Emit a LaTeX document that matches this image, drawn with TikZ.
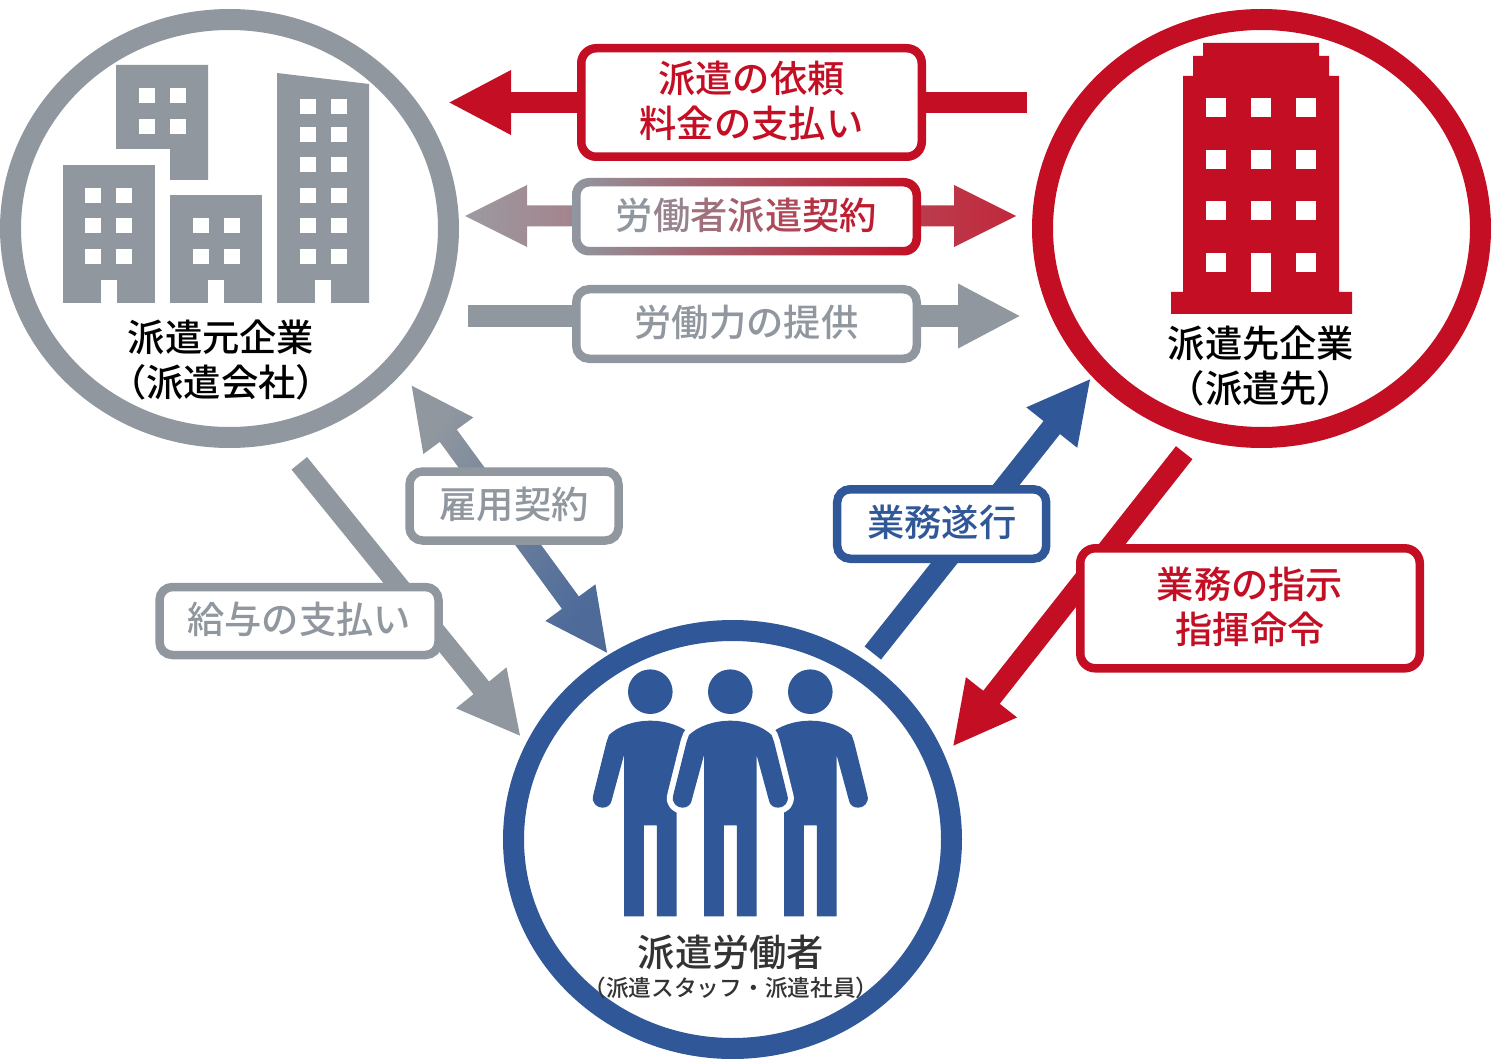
\documentclass[tikz,border=0pt]{standalone}
\usepackage{fontspec}
\setmainfont{Noto Sans CJK JP Medium}
\usepackage{xcolor}
\usetikzlibrary{shapes.geometric, arrows.meta, positioning, calc}
\definecolor{agencygray}{HTML}{90979F}
\definecolor{clientred}{HTML}{C30E23}
\definecolor{workerblue}{HTML}{305797}
\definecolor{workertext}{HTML}{333333}
\definecolor{contractleft}{HTML}{9C9AA1}
\definecolor{contractmid}{HTML}{B06E7C}
\definecolor{contractright}{HTML}{C1283B}
\tikzset{
    circlenode/.style={ellipse, draw, fill=white, line width=21pt, inner sep=0pt, minimum width=438pt, minimum height=418pt},
    labelbox/.style={rectangle, draw=#1, fill=white, line width=8.5pt, rounded corners=13pt, inner sep=0pt},
    boxtext/.style={inner sep=0pt, text=#1, yshift=1.5pt, align=center, font=\fontsize{37.3}{45}\selectfont},
    namelabel/.style={inner sep=0pt, align=center, font=\fontsize{37.3}{45}\selectfont},
    flow/.style={line width=#1, shorten >=-1pt, -{Triangle[length=63pt,width=60pt]}},
}
\newcommand{\personpath}{(0,720.7) .. controls (16,720.7) and (32,726) .. (41.3,735) -- (43.7,741.7) -- (57,795) .. controls (59.5,803) and (53,807.7) .. (48,807.7) .. controls (43,807.7) and (40,805) .. (39,801.7) -- (26.3,755) -- (26.3,916.3) -- (6.5,916.3) -- (6.5,825.3) -- (-6.5,825.3) -- (-6.5,916.3) -- (-26.3,916.3) -- (-26.3,755) -- (-39,801.7) .. controls (-40,805) and (-43,807.7) .. (-48,807.7) .. controls (-53,807.7) and (-59.5,803) .. (-57,795) -- (-43.7,741.7) -- (-41.3,735) .. controls (-32,726) and (-16,720.7) .. (0,720.7) -- cycle}
\newcommand{\gradarrow}[3]{
    \coordinate (ba) at ($(#1)!62pt!(#2)$);
    \coordinate (bb) at ($(#2)!62pt!(#1)$);
    \shade[#3] (#1) -- ($(ba)!31pt!90:(#2)$) -- ($(ba)!10.5pt!90:(#2)$) -- ($(bb)!10.5pt!-90:(#1)$) -- ($(bb)!31pt!-90:(#1)$) -- (#2) -- ($(bb)!31pt!90:(#1)$) -- ($(bb)!10.5pt!90:(#1)$) -- ($(ba)!10.5pt!-90:(#2)$) -- ($(ba)!31pt!-90:(#2)$) -- cycle;
}
\begin{document}
\begin{tikzpicture}[x=1pt,y=-1pt]
\useasboundingbox (0,0) rectangle (1491,1059);

\node[circlenode, draw=agencygray] (agency) at (229.5,228.5) {};
\node[circlenode, draw=clientred] (client) at (1261.5,228.5) {};
\node[circlenode, draw=workerblue] (worker) at (732.5,839.5) {};

\fill[agencygray] (116,65) -- (208,65) -- (208,180) -- (170,180) -- (170,149) -- (116,149) -- cycle;
\fill[agencygray] (63,165) rectangle (155,303);
\fill[agencygray] (170,195) rectangle (262,303);
\fill[agencygray] (277,73) -- (369,84) -- (369,303) -- (277,303) -- cycle;
\foreach \x in {139,170}
    \foreach \y in {88,119}
        \fill[white] (\x,\y) rectangle ++(15.5,15.5);
\foreach \x in {85,116}
    \foreach \y in {188,218,249}
        \fill[white] (\x,\y) rectangle ++(15.5,15.5);
\foreach \x in {193,224}
    \foreach \y in {218,249}
        \fill[white] (\x,\y) rectangle ++(15.5,15.5);
\foreach \x in {300,331}
    \foreach \y in {99,127,157,188,218,249}
        \fill[white] (\x,\y) rectangle ++(15.5,15.5);
\foreach \x in {101,208,315}
    \fill[white] (\x,280) rectangle ++(15.5,23);

\fill[clientred] (1203,43) -- (1319,43) -- (1319,56) -- (1329,56) -- (1329,76) -- (1339,76) -- (1339,292) -- (1352,292) -- (1352,314) -- (1171,314) -- (1171,292) -- (1183,292) -- (1183,76) -- (1193,76) -- (1193,56) -- (1203,56) -- cycle;
\foreach \x in {1206,1251,1296}
    \foreach \y in {98,150,201,253}
        \fill[white] (\x,\y) rectangle ++(20,19.5);
\fill[white] (1251,253) rectangle ++(20,39);

\foreach \cx in {650.3,810.3} {
    \begin{scope}[shift={(\cx,0)}]
        \fill[workerblue] (0,691.7) circle (22.3pt);
        \fill[workerblue] \personpath;
    \end{scope}
}
\begin{scope}[shift={(730.3,0)}]
    \draw[white, line width=12pt, line join=round, fill=white] \personpath;
    \fill[white] (26.3,750) -- (45,800) -- (26.3,814) -- cycle;
    \fill[white] (-26.3,750) -- (-45,800) -- (-26.3,814) -- cycle;
    \fill[workerblue] (0,691.7) circle (22.3pt);
    \fill[workerblue] \personpath;
\end{scope}

\node[namelabel] (agencyname) at (221,360) {派遣元企業\\（派遣会社）};
\node[namelabel] (clientname) at (1261,366.5) {派遣先企業\\（派遣先）};
\node[namelabel, text=workertext] (workername) at (731,952) {派遣労働者};
\node[inner sep=0pt, text=workertext, font=\fontsize{22.7}{26}\selectfont, below=7pt of workername] (workersub) {（派遣スタッフ・派遣社員）};

\coordinate (requestfrom) at (1027,102.5);
\coordinate (requestto) at (449,102.5);
\coordinate (tipleft) at (465,216);
\coordinate (tipright) at (1016,216);
\coordinate (laborfrom) at (468,316);
\coordinate (laborto) at (1020,316);
\coordinate (employtop) at (411.7,385.7);
\coordinate (employbottom) at (607,652.7);
\coordinate (wagefrom) at (299.3,463.3);
\coordinate (wageto) at (520.3,736);
\coordinate (dutyfrom) at (872.8,653);
\coordinate (dutyto) at (1090.3,379);
\coordinate (orderfrom) at (1184.2,452.7);
\coordinate (orderto) at (953.1,746);

\draw[flow=21pt, clientred] (requestfrom) -- (requestto);
\gradarrow{tipleft}{tipright}{left color=contractleft, middle color=contractmid, right color=contractright}
\draw[flow=21pt, agencygray] (laborfrom) -- (laborto);
\gradarrow{employtop}{employbottom}{left color=agencygray, right color=workerblue!70!agencygray, shading angle=54}
\draw[flow=20pt, agencygray] (wagefrom) -- (wageto);
\draw[flow=21pt, workerblue] (dutyfrom) -- (dutyto);
\draw[flow=21pt, clientred] (orderfrom) -- (orderto);

\node[labelbox=clientred, rounded corners=15pt, minimum width=340.5pt, minimum height=108.5pt] (requestbox) at (751.5,102.5) {};
\node[boxtext=clientred] (requesttext) at (requestbox) {派遣の依頼\\料金の支払い};
\node[inner sep=0pt, fill=white, rounded corners=13pt, minimum width=340.5pt, minimum height=69.5pt] (contractbox) at (746.5,216.5) {};
\shade[left color=agencygray, right color=clientred, even odd rule] [rounded corners=17pt] (572,178) rectangle (921,255.5) [rounded corners=9pt] (580.5,186.5) rectangle (912.5,247);
\node[boxtext=black] (contracttext) at (contractbox) {{\color{agencygray}労}{\color{clientred!14!agencygray}働}{\color{clientred!28!agencygray}者}{\color{clientred!43!agencygray}派}{\color{clientred!57!agencygray}遣}{\color{clientred!75!agencygray}契}{\color{clientred!90!agencygray}約}};
\node[labelbox=agencygray, minimum width=340.5pt, minimum height=69.5pt] (laborbox) at (746.5,324) {};
\node[boxtext=agencygray] (labortext) at (laborbox) {労働力の提供};
\node[labelbox=agencygray, minimum width=209pt, minimum height=69pt] (employbox) at (514,506) {};
\node[boxtext=agencygray] (employtext) at (employbox) {雇用契約};
\node[labelbox=agencygray, minimum width=279pt, minimum height=68pt] (wagebox) at (299,621) {};
\node[boxtext=agencygray] (wagetext) at (wagebox) {給与の支払い};
\node[labelbox=workerblue, minimum width=209pt, minimum height=69.5pt] (dutybox) at (941.7,524) {};
\node[boxtext=workerblue] (dutytext) at (dutybox) {業務遂行};
\node[labelbox=clientred, rounded corners=15pt, minimum width=339.5pt, minimum height=120pt] (orderbox) at (1250,608.3) {};
\node[boxtext=clientred] (ordertext) at (orderbox) {業務の指示\\指揮命令};
\end{tikzpicture}
\end{document}
